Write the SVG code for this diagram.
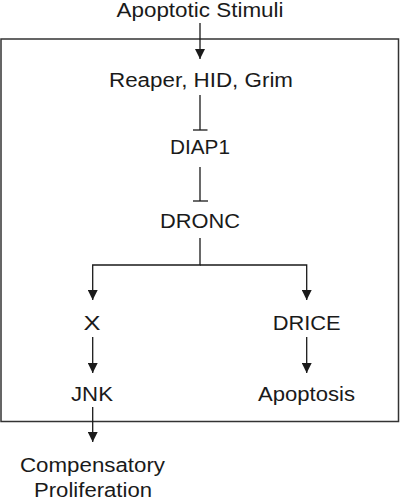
<svg xmlns="http://www.w3.org/2000/svg" width="400" height="500" viewBox="0 0 400 500">
<defs>
<style>
text{font-family:"Liberation Sans",Arial,sans-serif;font-size:20px;fill:#1a1a1a;text-anchor:middle}
.ln{stroke:#1a1a1a;stroke-width:1.3;fill:none}
</style>
<marker id="arr" viewBox="0 0 10 10" refX="10" refY="5" markerWidth="10" markerHeight="10" markerUnits="userSpaceOnUse" orient="auto">
<path d="M0,0 L10,5 L0,10 z" fill="#1a1a1a"/>
</marker>
</defs>
<rect x="1" y="39" width="397.5" height="382.5" fill="none" stroke="#333" stroke-width="1.5"/>
<g id="n-stimuli"><text x="200" y="17" textLength="167" lengthAdjust="spacingAndGlyphs">Apoptotic Stimuli</text></g>
<g id="n-rhg"><text x="201" y="87" textLength="184" lengthAdjust="spacingAndGlyphs">Reaper, HID, Grim</text></g>
<g id="n-diap1"><text x="200" y="154" textLength="60" lengthAdjust="spacingAndGlyphs">DIAP1</text></g>
<g id="n-dronc"><text x="200" y="228" textLength="80" lengthAdjust="spacingAndGlyphs">DRONC</text></g>
<g id="n-x"><text x="92" y="330" textLength="17" lengthAdjust="spacingAndGlyphs">X</text></g>
<g id="n-drice"><text x="306.7" y="330" textLength="68" lengthAdjust="spacingAndGlyphs">DRICE</text></g>
<g id="n-jnk"><text x="92" y="401" textLength="42" lengthAdjust="spacingAndGlyphs">JNK</text></g>
<g id="n-apoptosis"><text x="306.5" y="401" textLength="97" lengthAdjust="spacingAndGlyphs">Apoptosis</text></g>
<g id="n-comp"><text x="92.5" y="471.5" textLength="145" lengthAdjust="spacingAndGlyphs">Compensatory</text><text x="93" y="497" textLength="118" lengthAdjust="spacingAndGlyphs">Proliferation</text></g>
<g id="connectors" class="ln">
<line x1="200" y1="23" x2="200" y2="59" marker-end="url(#arr)"/>
<line x1="200" y1="95" x2="200" y2="130"/>
<line x1="193" y1="130" x2="207.5" y2="130"/>
<line x1="200" y1="167" x2="200" y2="201"/>
<line x1="193" y1="201" x2="208" y2="201"/>
<polyline points="200,238 200,265 92.7,265 92.7,300" marker-end="url(#arr)"/>
<polyline points="200,265 306.7,265 306.7,300" marker-end="url(#arr)"/>
<line x1="92.7" y1="337" x2="92.7" y2="373" marker-end="url(#arr)"/>
<line x1="306.7" y1="337" x2="306.7" y2="373" marker-end="url(#arr)"/>
<line x1="92.7" y1="407" x2="92.7" y2="442" marker-end="url(#arr)"/>
</g>
</svg>
